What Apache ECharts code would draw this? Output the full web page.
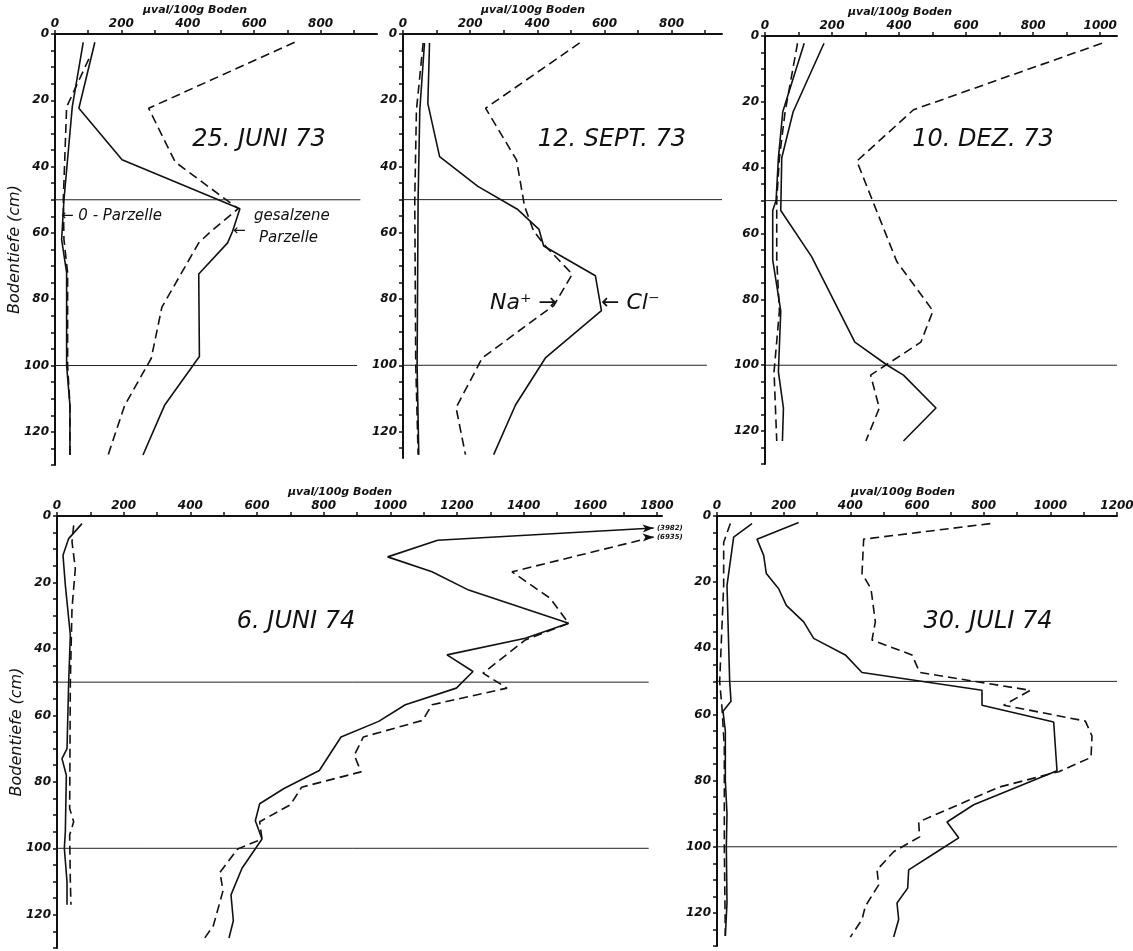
<!DOCTYPE html>
<html>
<head>
<meta charset="utf-8">
<script src="https://cdn.jsdelivr.net/npm/echarts@6/dist/echarts.min.js"></script>
<style>
  html, body { margin: 0; padding: 0; background: #fff; }
  #chart { width: 1133px; height: 951px; }
</style>
</head>
<body>
<div id="chart"></div>
<script>
// Salzprofile im Boden: Cl⁻ (durchgezogen) und Na⁺ (gestrichelt) in µval/100 g Boden,
// jeweils für die gesalzene Parzelle (S) und die 0-Parzelle (K), über der Bodentiefe in cm.

// ---- 25. Juni 73 ----
const jun73_clS_depth = [2.5, 22.4, 37.9, 52.7, 59.5, 63, 72.4, 97.3, 112, 127];
const jun73_clS       = [120, 72, 202, 557, 535, 520, 433, 435, 330, 265];
const jun73_naS_depth = [2.5, 22.4, 38.6, 52.7, 59.5, 63, 82.4, 97.8, 112, 127];
const jun73_naS       = [722, 282, 362, 552, 470, 433, 322, 290, 210, 160];
const jun73_clK_depth = [2.5, 22, 50, 62, 72, 100, 112, 127];
const jun73_clK       = [85, 52, 27, 20, 35, 35, 45, 45];
const jun73_naK_depth = [7.5, 22, 50, 62, 72, 100, 112, 127];
const jun73_naK       = [102, 35, 25, 27, 38, 38, 45, 45];

// ---- 12. Sept. 73 ----
const sep73_clS_depth = [2.7, 21, 37, 46, 53, 59, 64, 73, 83.5, 97.8, 112, 127];
const sep73_clS       = [79, 74, 109, 223, 342, 405, 419, 573, 591, 424, 335, 270];
const sep73_naS_depth = [2.7, 22.4, 38, 52, 59.5, 64, 72.5, 82, 86, 97.8, 112.8, 127];
const sep73_naS       = [526, 246, 338, 362, 389, 424, 504, 449, 394, 236, 158, 186];
const sep73_clK_depth = [2.7, 23, 50, 100, 127];
const sep73_clK       = [64, 50, 45, 42, 47];
const sep73_naK_depth = [2.7, 23, 50, 100, 127];
const sep73_naK       = [60, 40, 35, 38, 45];

// ---- 10. Dez. 73 ----
const dez73_clS_depth = [2.2, 23, 37, 53, 67, 93, 100, 103, 113, 123];
const dez73_clS       = [176, 84, 50, 47, 139, 268, 365, 413, 510, 413];
const dez73_naS_depth = [2.2, 22.4, 38, 68.5, 83.5, 93, 103, 113, 123];
const dez73_naS       = [1005, 443, 274, 393, 501, 465, 315, 341, 301];
const dez73_clK_depth = [2.2, 23, 37, 50, 53, 68, 83.5, 102, 113, 123];
const dez73_clK       = [117, 53, 40, 33, 23, 23, 47, 40, 55, 52];
const dez73_naK_depth = [2.2, 23, 37, 50, 68, 83.5, 102, 123];
const dez73_naK       = [97, 60, 43, 35, 35, 43, 27, 35];

// ---- 6. Juni 74 (oberster Wert jeweils außerhalb der Skala) ----
const jun74_clS_depth = [3.6, 7.3, 12.3, 16.8, 22.3, 32.3, 36.8, 41.8, 46.8, 51.8, 56.8, 61.8, 66.5, 76.6, 82, 86.6, 91.7, 97.2, 106, 114, 121.8, 127];
const jun74_clS       = [3982, 1142, 992, 1125, 1235, 1535, 1405, 1170, 1248, 1198, 1045, 965, 852, 787, 681, 608, 595, 615, 555, 522, 529, 516];
const jun74_naS_depth = [6.3, 16.8, 24.8, 32.3, 37.3, 47.3, 51.8, 56.8, 61.5, 66.5, 72, 77, 81.6, 86.9, 92, 97.2, 100.2, 107.2, 112.8, 123.3, 127];
const jun74_naS       = [6935, 1365, 1480, 1535, 1405, 1278, 1350, 1125, 1097, 919, 892, 912, 734, 700, 608, 615, 542, 489, 498, 469, 443];
const jun74_clK_depth = [2.3, 6.8, 11.8, 20.8, 35.8, 50, 70, 73, 78, 95, 100, 110, 117];
const jun74_clK       = [75, 35, 18, 25, 40, 35, 30, 15, 28, 25, 22, 30, 30];
const jun74_naK_depth = [2.8, 7.8, 15.8, 27.8, 50, 88, 92, 96, 110, 117];
const jun74_naK       = [50, 45, 55, 45, 40, 38, 50, 38, 40, 42];

// ---- 30. Juli 74 ----
const jul74_clS_depth = [2, 7, 11.9, 17.4, 22, 27, 32, 37, 42, 47.3, 52.7, 57.2, 62.3, 77, 87.3, 92.5, 97.3, 101.5, 107, 112.5, 117, 122, 127.3];
const jul74_clS       = [245, 120, 140, 148, 185, 208, 260, 290, 385, 435, 795, 795, 1010, 1020, 770, 690, 725, 660, 575, 572, 540, 545, 530];
const jul74_naS_depth = [2.3, 7, 17.4, 22, 32, 37.5, 42, 47.3, 52.7, 57.2, 62, 66.5, 73, 77.3, 82, 92.5, 97, 101.5, 107, 111.5, 118, 122, 127.3];
const jul74_naS       = [820, 440, 435, 462, 475, 465, 585, 608, 940, 860, 1105, 1125, 1122, 1025, 845, 605, 608, 530, 480, 485, 445, 435, 400];
const jul74_clK_depth = [2.3, 6.4, 21, 50, 56, 59, 65, 80, 90, 100, 117, 127];
const jul74_clK       = [105, 50, 30, 38, 42, 18, 25, 25, 30, 28, 30, 25];
const jul74_naK_depth = [2.3, 8, 21, 50, 58, 70, 100, 127];
const jul74_naK       = [40, 20, 20, 8, 15, 22, 22, 25];

// Horizonte bei 50 und 100 cm, mit ihrer Länge auf der Wertachse
const refDepths = [50, 100];
const refEnds = { jun73: [920, 910], sep73: [950, 905], dez73: [1050, 1050], jun74: [1775, 1775], jul74: [1200, 1200] };

// Tiefenachse: Teilstriche alle 5 cm, Beschriftung alle 20 cm
const depthTicks  = [0, 5, 10, 15, 20, 25, 30, 35, 40, 45, 50, 55, 60, 65, 70, 75, 80, 85, 90, 95, 100, 105, 110, 115, 120, 125, 130];
const depthLabels = [0, 20, 40, 60, 80, 100, 120];
// Wertachsen
const ticks900   = [0, 100, 200, 300, 400, 500, 600, 700, 800, 900];
const labels800  = [0, 200, 400, 600, 800];
const ticks1000  = [0, 100, 200, 300, 400, 500, 600, 700, 800, 900, 1000];
const labels1000 = [0, 200, 400, 600, 800, 1000];
const ticks1800  = [0, 100, 200, 300, 400, 500, 600, 700, 800, 900, 1000, 1100, 1200, 1300, 1400, 1500, 1600, 1700, 1800];
const labels1800 = [0, 200, 400, 600, 800, 1000, 1200, 1400, 1600, 1800];
const ticks1200  = [0, 100, 200, 300, 400, 500, 600, 700, 800, 900, 1000, 1100, 1200];
const labels1200 = [0, 200, 400, 600, 800, 1000, 1200];

const INK = '#111';
const FONT = "'DejaVu Sans', 'Liberation Sans', sans-serif";
const OFFSCALE_CAP = 1790;   // Werte darüber enden als Pfeil am Achsenende

const panels = [
  { key: 'jun73', title: '25. JUNI 73', grid: { left: 55, top: 34, width: 322, height: 431 }, xMax: 970, yMax: 130,
    xt: ticks900, xl: labels800, depthName: true,
    s: [[jun73_clS, jun73_clS_depth, false], [jun73_naS, jun73_naS_depth, true], [jun73_clK, jun73_clK_depth, false], [jun73_naK, jun73_naK_depth, true]] },
  { key: 'sep73', title: '12. SEPT. 73', grid: { left: 403, top: 34, width: 319, height: 424 }, xMax: 950, yMax: 128,
    xt: ticks900, xl: labels800, depthName: false,
    s: [[sep73_clS, sep73_clS_depth, false], [sep73_naS, sep73_naS_depth, true], [sep73_clK, sep73_clK_depth, false], [sep73_naK, sep73_naK_depth, true]] },
  { key: 'dez73', title: '10. DEZ. 73', grid: { left: 765, top: 36, width: 352, height: 428 }, xMax: 1050, yMax: 130,
    xt: ticks1000, xl: labels1000, depthName: false,
    s: [[dez73_clS, dez73_clS_depth, false], [dez73_naS, dez73_naS_depth, true], [dez73_clK, dez73_clK_depth, false], [dez73_naK, dez73_naK_depth, true]] },
  { key: 'jun74', title: '6. JUNI 74', grid: { left: 57, top: 516, width: 605, height: 432 }, xMax: 1815, yMax: 130,
    xt: ticks1800, xl: labels1800, depthName: true,
    s: [[jun74_clS, jun74_clS_depth, false], [jun74_naS, jun74_naS_depth, true], [jun74_clK, jun74_clK_depth, false], [jun74_naK, jun74_naK_depth, true]] },
  { key: 'jul74', title: '30. JULI 74', grid: { left: 717, top: 516, width: 400, height: 430 }, xMax: 1200, yMax: 130,
    xt: ticks1200, xl: labels1200, depthName: false,
    s: [[jul74_clS, jul74_clS_depth, false], [jul74_naS, jul74_naS_depth, true], [jul74_clK, jul74_clK_depth, false], [jul74_naK, jul74_naK_depth, true]] }
];

const labelStyle = { fontFamily: FONT, fontStyle: 'italic', fontWeight: 'bold', fontSize: 12, color: INK, formatter: v => String(v) };

const grids = [], xAxes = [], yAxes = [], series = [];

panels.forEach((p, gi) => {
  grids.push(Object.assign({ outerBoundsMode: 'none', containLabel: false }, p.grid));

  xAxes.push({
    gridIndex: gi, type: 'value', position: 'top', min: 0, max: p.xMax,
    axisLine: { show: true, onZero: false, lineStyle: { color: INK, width: 2 } },
    axisTick: { show: true, inside: false, length: 4, customValues: p.xt, lineStyle: { color: INK, width: 1.5 } },
    axisLabel: Object.assign({ margin: 4, customValues: p.xl }, labelStyle),
    splitLine: { show: false }
  });

  const ticks = depthTicks.filter(v => v <= p.yMax);
  yAxes.push({
    gridIndex: gi, type: 'value', inverse: true, min: 0, max: p.yMax,
    axisLine: { show: true, onZero: false, lineStyle: { color: INK, width: 2 } },
    axisTick: { show: true, inside: false, length: 4, customValues: ticks, lineStyle: { color: INK, width: 1.5 } },
    axisLabel: Object.assign({ margin: 6, customValues: depthLabels }, labelStyle),
    splitLine: { show: false },
    name: p.depthName ? 'Bodentiefe (cm)' : '',
    nameLocation: 'middle', nameRotate: 90, nameGap: 32, nameMoveOverlap: false,
    nameTextStyle: { fontFamily: FONT, fontStyle: 'italic', fontSize: 16, color: INK }
  });

  // Horizonte 50 / 100 cm
  refDepths.forEach((d, k) => {
    series.push({
      type: 'line', xAxisIndex: gi, yAxisIndex: gi, silent: true, animation: false, symbol: 'none', z: 2,
      data: [[0, d], [refEnds[p.key][k], d]],
      lineStyle: { color: '#222', width: 1 }
    });
  });

  // Profile
  p.s.forEach(([vals, depths, dashed]) => {
    const data = vals.map((v, i) => {
      if (v > p.xMax) {
        // außerhalb der Skala: Pfeil am Achsenende, Wert in Klammern
        return {
          value: [OFFSCALE_CAP, depths[i]],
          symbol: 'arrow', symbolSize: [6, 11], symbolRotate: -87, symbolKeepAspect: true,
          itemStyle: { color: INK },
          label: { show: true, position: 'right', distance: 3, formatter: '(' + v + ')',
                   fontFamily: FONT, fontStyle: 'italic', fontWeight: 'bold', fontSize: 7, color: INK }
        };
      }
      return [v, depths[i]];
    });
    series.push({
      type: 'line', xAxisIndex: gi, yAxisIndex: gi, silent: true, animation: false,
      showSymbol: true, symbol: 'none', z: 3,
      data,
      lineStyle: { color: INK, width: 1.6, type: dashed ? [9, 5] : 'solid' }
    });
  });
});

// Beschriftungen
const txt = (x, y, text, font, align, vAlign) => ({
  type: 'text', x, y, silent: true, z: 10,
  style: { text, font, fill: INK, align: align || 'center', verticalAlign: vAlign || 'middle' }
});
const titleFont = "italic 24px " + FONT;
const unitFont  = "italic bold 11px " + FONT;
const noteFont  = "italic 15px " + FONT;
const ionFont   = "italic 22px " + FONT;

const graphics = [
  txt(259, 140, '25. JUNI 73', titleFont),
  txt(612, 140, '12. SEPT. 73', titleFont),
  txt(983, 140, '10. DEZ. 73', titleFont),
  txt(296, 622, '6. JUNI 74', titleFont),
  txt(988, 622, '30. JULI 74', titleFont),

  txt(195, 10, 'µval/100g Boden', unitFont),
  txt(533, 10, 'µval/100g Boden', unitFont),
  txt(900, 12, 'µval/100g Boden', unitFont),
  txt(340, 492, 'µval/100g Boden', unitFont),
  txt(903, 492, 'µval/100g Boden', unitFont),

  txt(61, 216, '← 0 - Parzelle', noteFont, 'left'),
  txt(254, 216, 'gesalzene', noteFont, 'left'),
  txt(259, 238, 'Parzelle', noteFont, 'left'),
  txt(233, 231, '←', noteFont, 'left'),

  txt(490, 303, 'Na⁺ →', ionFont, 'left'),
  txt(601, 303, '← Cl⁻', ionFont, 'left')
];

const chart = echarts.init(document.getElementById('chart'), null, { renderer: 'canvas' });
chart.setOption({
  backgroundColor: '#fff',
  animation: false,
  grid: grids,
  xAxis: xAxes,
  yAxis: yAxes,
  series,
  graphic: graphics
});
</script>
</body>
</html>
